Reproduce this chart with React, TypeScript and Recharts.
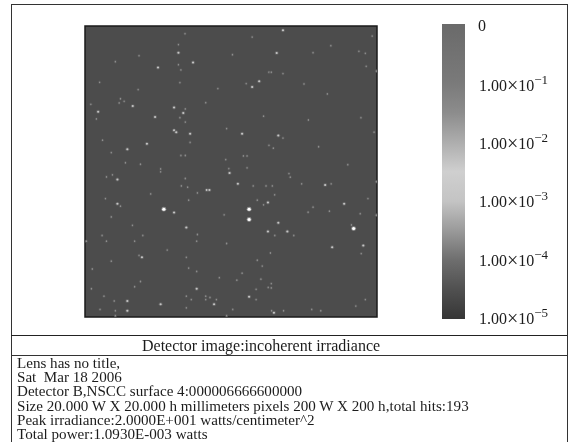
import { Bar, BarChart, ReferenceArea, Scatter, ScatterChart, XAxis, YAxis } from 'recharts';

// detector hits as [column, row] in detector pixels, row counted from the top
const faintHits = [
  [68.5, 5.3], [114.5, 7.6], [64, 12.8], [37, 20.4], [101, 19.7], [20.8, 24.5], [64, 26.6], [65.7, 30.2],
  [126, 31.8], [10, 38.7], [65, 38.9], [110.4, 39.6], [36.4, 43.7], [91, 43], [24.3, 50], [26.8, 51.8],
  [23.4, 52.9], [4, 53.8], [82.7, 52.7], [68.7, 57], [122.3, 62], [65, 63], [7.8, 63.9], [68.7, 66],
  [97, 70.5], [12, 78.5], [72, 80], [126, 82], [18, 87], [65.7, 89], [68.7, 89], [108.5, 89.3], [111, 89.3],
  [96.4, 91.8], [27.7, 94], [38, 95], [111, 97.5], [51.8, 98.2], [98.5, 98], [196.7, 6.9], [168.4, 13.5],
  [156.2, 18.3], [187.6, 17.4], [192, 18.8], [192.6, 27.7], [127.6, 31.8], [135.6, 32.7], [199.5, 31],
  [150, 39.8], [166, 46.7], [153, 64.6], [189, 63], [198, 73], [135.6, 77], [129, 84], [160, 83], [180, 95.3],
  [51.8, 100.2], [14.7, 103.7], [18.8, 102.3], [68.7, 104.8], [66, 109.9], [70.3, 110.8], [115.2, 109.9],
  [124, 109.9], [77, 114.7], [45, 115.4], [14, 118.6], [71, 119.7], [118, 119.7], [24.3, 123.8], [122.3, 122.9],
  [95.3, 129.8], [18, 131.2], [32.5, 137], [11.7, 144], [39.6, 144], [77, 143.3], [1, 147.9], [14.7, 147.9],
  [34, 147.9], [76.5, 147.9], [97, 149.5], [56.3, 154], [127, 156], [37, 157.7], [69.4, 159], [18, 161.6],
  [118, 161], [121.4, 165], [71, 166.4], [5, 167], [76.5, 168.7], [107.6, 169.9], [92, 173], [120.5, 174],
  [104, 174.7], [38, 175.6], [34, 179.2], [4.4, 180.6], [117.2, 181], [125.5, 179.7], [13, 185.7], [69.4, 185.7],
  [82.7, 185.7], [72.8, 188], [20, 189], [82.7, 188], [85.6, 186.6], [90, 188], [117.2, 188], [69.4, 193.7],
  [10.3, 194.8], [20.8, 195.7], [101.2, 194.8], [20.8, 199], [97, 199], [139.7, 101.4], [140.6, 103.9],
  [128.3, 109.9], [148.4, 108.5], [168.6, 108.5], [199.5, 107], [129.9, 116], [193.8, 118.6], [156.2, 124.5],
  [152.8, 128], [167.4, 127.3], [188.5, 129], [199.5, 130], [182.5, 136.7], [130, 144], [143, 144], [189.2, 156.4],
  [127.6, 177], [127.6, 180], [192, 188], [185.5, 192.5], [127.8, 195.7], [136, 195.7], [155.3, 194.8], [161.5, 195.7],
];

const mediumHits = [
  [64, 18.3], [74, 25], [50, 28.6], [119.3, 38], [114.5, 41.9], [32.7, 55], [61, 56], [9, 58.9], [67.3, 59.8],
  [48, 62.5], [61, 71.7], [62.5, 73], [72, 74], [107.6, 74], [42.4, 81], [29, 84.7], [135.6, 3], [131.3, 18.5],
  [132.4, 75.3], [22.2, 105.5], [99, 101], [104.7, 108.5], [83.4, 112.8], [85.2, 112.8], [125.3, 121.3], [22.2, 122.2],
  [61, 128.2], [69.4, 138.5], [125.3, 141.2], [39, 159], [76.5, 180.6], [112.4, 186], [29, 189], [51.8, 191.2],
  [88.4, 191.2], [29, 195.7], [164.5, 109.2], [177.5, 122.2], [132.4, 135.3], [138.6, 141.2], [190.6, 150.9],
  [169.3, 152], [129.4, 197],
];

const brightHits = [[54, 125.9], [112.4, 125.9], [112.4, 133], [184, 139.2]];

const scaleTicks = [0, 1, 2, 3, 4, 5];
const scaleExponents = ['', '−1', '−2', '−3', '−4', '−5'];
const scaleRange = [{ name: 'irradiance', span: [-0.05, 5.02] }];
const scaleStops = [
  [0, '#6a6a6a'], [0.1, '#727272'], [0.2, '#7a7a7a'], [0.3, '#8c8c8c'], [0.4, '#adadad'], [0.5, '#cfcfcf'],
  [0.6, '#c4c4c4'], [0.7, '#9a9a9a'], [0.8, '#6e6e6e'], [0.9, '#505050'], [1, '#363636'],
];

const plotTitle = 'Detector image:incoherent irradiance';
const notes = [
  'Lens has no title,',
  'Sat  Mar 18 2006',
  'Detector B,NSCC surface 4:000006666600000',
  'Size 20.000 W X 20.000 h millimeters pixels 200 W X 200 h,total hits:193',
  'Peak irradiance:2.0000E+001 watts/centimeter^2',
  'Total power:1.0930E-003 watts',
];

const serif = '"Liberation Serif", serif';
const ink = '#1c1c1c';

function spot(core: string, halo: string, rx: number, ry: number) {
  return (props: any) => (
    <g>
      <ellipse cx={props.cx} cy={props.cy} rx={rx + 0.9} ry={ry + 0.9} fill={halo} />
      <ellipse cx={props.cx} cy={props.cy} rx={rx} ry={ry} fill={core} />
    </g>
  );
}

function ScaleTick({ y, payload }: any) {
  const exponent = scaleExponents[payload.value];
  if (!exponent) {
    return (
      <text x={478} y={y} dy={4} fontSize={16} fontFamily={serif} fill={ink}>
        0
      </text>
    );
  }
  return (
    <text x={479} y={y} dy={6} fontSize={16} fontFamily={serif} fill={ink}>
      1.00
      <tspan fontSize={20} dy={1}>×</tspan>
      <tspan dy={-1}>10</tspan>
      <tspan dy={-7} fontSize={13}>
        {exponent}
      </tspan>
    </text>
  );
}

export default function App() {
  return (
    <div style={{ position: 'absolute', left: 0, top: 0, width: 573, height: 442, background: '#fff', overflow: 'hidden' }}>
      <div style={{ position: 'absolute', left: 11, top: 4, width: 555, height: 440, border: '1px solid #333', boxSizing: 'content-box' }} />
      <div style={{ position: 'absolute', left: 11, top: 335, width: 556, height: 1, background: '#222' }} />
      <div style={{ position: 'absolute', left: 11, top: 355, width: 556, height: 1, background: '#333' }} />

      <div style={{ position: 'absolute', left: 0, top: 0, filter: 'blur(0.7px)' }}>
        <ScatterChart width={573} height={442} margin={{ top: 26, right: 196, bottom: 125, left: 85 }}>
          <XAxis type="number" dataKey="0" domain={[0, 200]} hide />
          <YAxis type="number" dataKey="1" domain={[0, 200]} reversed hide />
          <ReferenceArea x1={0} x2={200} y1={0} y2={200} fill="#4c4c4c" fillOpacity={1} stroke="#1a1a1a" strokeWidth={1.5} />
          <Scatter data={faintHits} isAnimationActive={false} shape={spot('#8e8e8e', '#565656', 0.7, 0.9)} />
          <Scatter data={mediumHits} isAnimationActive={false} shape={spot('#c4c4c4', '#626262', 1.1, 1)} />
          <Scatter data={brightHits} isAnimationActive={false} shape={spot('#ffffff', '#8a8a8a', 1.6, 1.5)} />
        </ScatterChart>
      </div>

      <div style={{ position: 'absolute', left: 0, top: 0, filter: 'blur(0.3px)' }}>
        <BarChart width={573} height={442} data={scaleRange} barCategoryGap={0} margin={{ top: 24, right: 0, bottom: 123, left: 442 }}>
          <defs>
            <linearGradient id="irradianceScale" x1="0" y1="0" x2="0" y2="1">
              {scaleStops.map(([offset, color]) => (
                <stop key={offset} offset={offset} stopColor={color as string} />
              ))}
            </linearGradient>
          </defs>
          <XAxis dataKey="name" hide />
          <YAxis
            orientation="right"
            reversed
            width={108}
            domain={[-0.05, 5.02]}
            ticks={scaleTicks}
            interval={0}
            axisLine={false}
            tickLine={false}
            tick={<ScaleTick />}
          />
          <Bar dataKey="span" fill="url(#irradianceScale)" isAnimationActive={false} />
        </BarChart>
      </div>

      <div style={{ position: 'absolute', left: 142, top: 336, height: 19, lineHeight: '19px', fontFamily: serif, fontSize: 16, color: ink, whiteSpace: 'pre', filter: 'blur(0.3px)' }}>
        {plotTitle}
      </div>
      <div style={{ position: 'absolute', left: 17, top: 356, fontFamily: serif, fontSize: 15.1, lineHeight: '14.2px', color: ink, whiteSpace: 'pre', filter: 'blur(0.3px)' }}>
        {notes.map((line) => (
          <div key={line}>{line}</div>
        ))}
      </div>
    </div>
  );
}
